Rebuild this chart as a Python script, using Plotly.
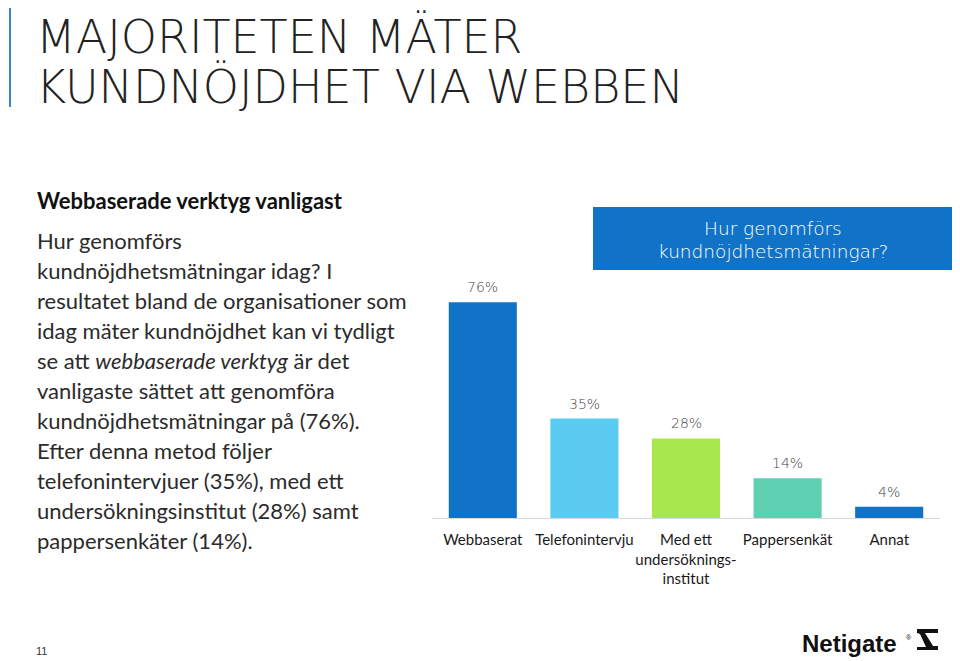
import plotly.graph_objects as go

categories = ["Webbaserat", "Telefonintervju", "Med ett<br>undersöknings-<br>institut", "Pappersenkät", "Annat"]
values = [76, 35, 28, 14, 4]
value_labels = ["76%", "35%", "28%", "14%", "4%"]
bar_colors = ["#1173C7", "#5CCBF1", "#A9E74E", "#5ECFB1", "#1173C7"]

title_lines = ["MAJORITETEN MÄTER", "KUNDNÖJDHET VIA WEBBEN"]
heading = "Webbaserade verktyg vanligast"
body_lines = [
    "Hur genomförs",
    "kundnöjdhetsmätningar idag? I",
    "resultatet bland de organisationer som",
    "idag mäter kundnöjdhet kan vi tydligt",
    "se att <i>webbaserade verktyg</i> är det",
    "vanligaste sättet att genomföra",
    "kundnöjdhetsmätningar på (76%).",
    "Efter denna metod följer",
    "telefonintervjuer (35%), med ett",
    "undersökningsinstitut (28%) samt",
    "pappersenkäter (14%).",
]
box_lines = ["Hur genomförs", "kundnöjdhetsmätningar?"]

# page body has an 8px margin; work in screen coordinates and convert
OFF = 8
W, H = 960 - OFF, 661 - OFF
PLOT_L, PLOT_R, PLOT_T, PLOT_B = 432, 940, 234, 518  # screen coords
L, R, T, B = PLOT_L - OFF, W - (PLOT_R - OFF), PLOT_T - OFF, H - (PLOT_B - OFF)
PW, PH = W - L - R, H - T - B


def px(x):
    return (x - OFF - L) / PW


def py(y):
    return (H - B - (y - OFF)) / PH


fig = go.Figure()
fig.add_trace(go.Bar(
    x=categories, y=values, marker=dict(color=bar_colors, line=dict(width=0)),
    hoverinfo="skip", showlegend=False,
))

annotations = []
for c, v, t in zip(categories, values, value_labels):
    annotations.append(dict(x=c, y=v, xref="x", yref="y", text=t, showarrow=False,
                            yanchor="bottom", yshift=5,
                            font=dict(family="DejaVu Sans", size=14, color="#444444", weight=300)))

for i, line in enumerate(title_lines):
    annotations.append(dict(x=px(34), y=py(37 + i * 50), xref="paper", yref="paper", text=line,
                            showarrow=False, xanchor="left", yanchor="middle",
                            font=dict(family="DejaVu Sans", size=46, color="#222222", weight=200)))

annotations.append(dict(x=px(35), y=py(200), xref="paper", yref="paper", text="<b>" + heading + "</b>",
                        showarrow=False, xanchor="left", yanchor="middle",
                        font=dict(family="Lato", size=22, color="#111111")))
for i, line in enumerate(body_lines):
    annotations.append(dict(x=px(35), y=py(240 + i * 30), xref="paper", yref="paper", text=line,
                            showarrow=False, xanchor="left", yanchor="middle",
                            font=dict(family="Lato", size=22, color="#2b2b2b")))

for i, line in enumerate(box_lines):
    annotations.append(dict(x=px(773), y=py(228 + i * 23), xref="paper", yref="paper", text=line,
                            showarrow=False, xanchor="center", yanchor="middle",
                            font=dict(family="DejaVu Sans", size=18.5, color="white", weight=300)))

annotations.append(dict(x=px(41), y=py(651), xref="paper", yref="paper", text="11", showarrow=False,
                        xanchor="center", yanchor="middle",
                        font=dict(family="Liberation Sans", size=11, color="#333333")))
annotations.append(dict(x=px(800), y=py(643), xref="paper", yref="paper", text="<b>Netigate</b>",
                        showarrow=False, xanchor="left", yanchor="middle",
                        font=dict(family="Liberation Sans", size=24, color="#111111")))
annotations.append(dict(x=px(904), y=py(637), xref="paper", yref="paper", text="®",
                        showarrow=False, xanchor="left", yanchor="middle",
                        font=dict(family="Liberation Sans", size=7, color="#111111")))

icon_pts = [(917, 629), (938, 629), (938, 633), (925, 633), (933, 646), (938, 646), (938, 650),
            (917, 650), (917, 647), (926, 647), (920, 634), (917, 633)]
icon_path = "M " + " L ".join(f"{px(a)},{py(b)}" for a, b in icon_pts) + " Z"

shapes = [
    dict(type="line", xref="paper", yref="paper", x0=px(10), x1=px(10), y0=py(5), y1=py(107),
         line=dict(color="#3a85c5", width=2)),
    dict(type="rect", xref="paper", yref="paper", x0=px(593), x1=px(965), y0=py(207), y1=py(270),
         fillcolor="#1173C7", line=dict(width=0), layer="below"),
    dict(type="path", xref="paper", yref="paper", path=icon_path,
         fillcolor="#111111", line=dict(width=0)),
]

fig.update_layout(
    width=W, height=H,
    margin=dict(l=L, r=R, t=T, b=B, pad=0),
    paper_bgcolor="white", plot_bgcolor="white",
    bargap=0.33,
    annotations=annotations,
    shapes=shapes,
    xaxis=dict(showgrid=False, showline=True, linecolor="#d9d9d9", linewidth=1,
               ticks="outside", ticklen=8, tickcolor="rgba(0,0,0,0)", tickangle=0,
               tickfont=dict(family="Lato", size=15, color="#1a1a1a"),
               range=[-0.5, 4.5], fixedrange=True),
    yaxis=dict(visible=False, range=[0, 100], fixedrange=True),
)

fig.write_html("out.html")
